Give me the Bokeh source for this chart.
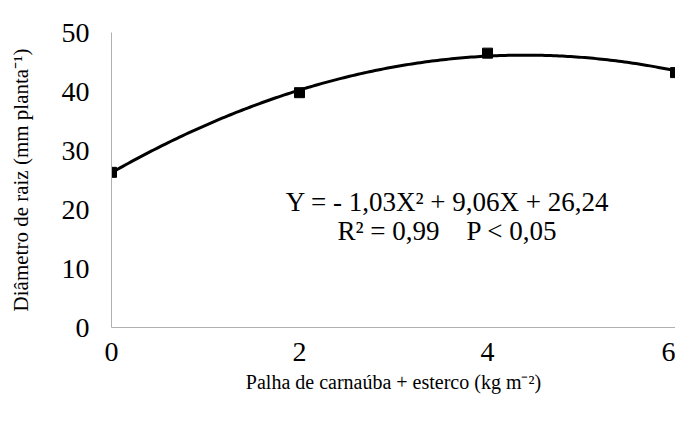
import numpy as np
from bokeh.plotting import figure
from bokeh.models import Range1d, Label, FixedTicker
from bokeh.embed import file_html
from bokeh.resources import INLINE

doses = [0, 2, 4, 6]
diametro = [26.3, 39.8, 46.5, 43.2]
coef = [-1.03, 9.06, 26.24]
x_ticks = [0, 2, 4, 6]
y_ticks = [0, 10, 20, 30, 40, 50]
eq_text = "Y = - 1,03X\u00b2 + 9,06X + 26,24"
r2_text = "R\u00b2 = 0,99\u00a0\u00a0\u00a0\u00a0P < 0,05"

FONT = "'Liberation Serif', serif"

p = figure(width=675, height=405, output_backend="svg", toolbar_location=None,
           x_range=Range1d(0, 6), y_range=Range1d(0, 50),
           min_border_left=111, min_border_right=0, min_border_top=32, min_border_bottom=78)
p.outline_line_color = None
p.grid.visible = False
p.background_fill_color = "white"

xs = np.linspace(0, 6, 200)
ys = coef[0] * xs ** 2 + coef[1] * xs + coef[2]
p.line(xs, ys, line_color="black", line_width=3)
p.scatter(doses, diametro, marker="square", size=10, color="black")

for ax in (p.xaxis[0], p.yaxis[0]):
    ax.axis_line_color = "#b0b0b0"
    ax.axis_line_width = 1
    ax.major_tick_line_color = None
    ax.minor_tick_line_color = None
    ax.major_label_text_font = FONT
    ax.major_label_text_font_size = "28px"
    ax.major_label_text_color = "black"
    ax.axis_label_text_font = FONT
    ax.axis_label_text_font_style = "normal"
    ax.axis_label_text_color = "black"

p.xaxis.axis_label_text_font_size = "20px"
p.yaxis.axis_label_text_font_size = "21px"
p.xaxis.ticker = FixedTicker(ticks=x_ticks)
p.yaxis.ticker = FixedTicker(ticks=y_ticks)
p.xaxis.major_label_standoff = 9
p.yaxis.major_label_standoff = 16
p.xaxis.axis_label = "Palha de carnaúba + esterco (kg m\u207b\u00b2)"
p.yaxis.axis_label = "Diâmetro de raiz (mm planta\u207b\u00b9)"
p.xaxis.axis_label_standoff = 7
p.yaxis.axis_label_standoff = 26

p.add_layout(Label(x=3.575, y=21.2, text=eq_text, text_font=FONT, text_font_size="27px",
                   text_align="center", text_baseline="middle", text_color="black"))
p.add_layout(Label(x=3.575, y=16.3, text=r2_text, text_font=FONT, text_font_size="27px",
                   text_align="center", text_baseline="middle", text_color="black"))

open("out.html", "w").write(file_html(p, INLINE))
